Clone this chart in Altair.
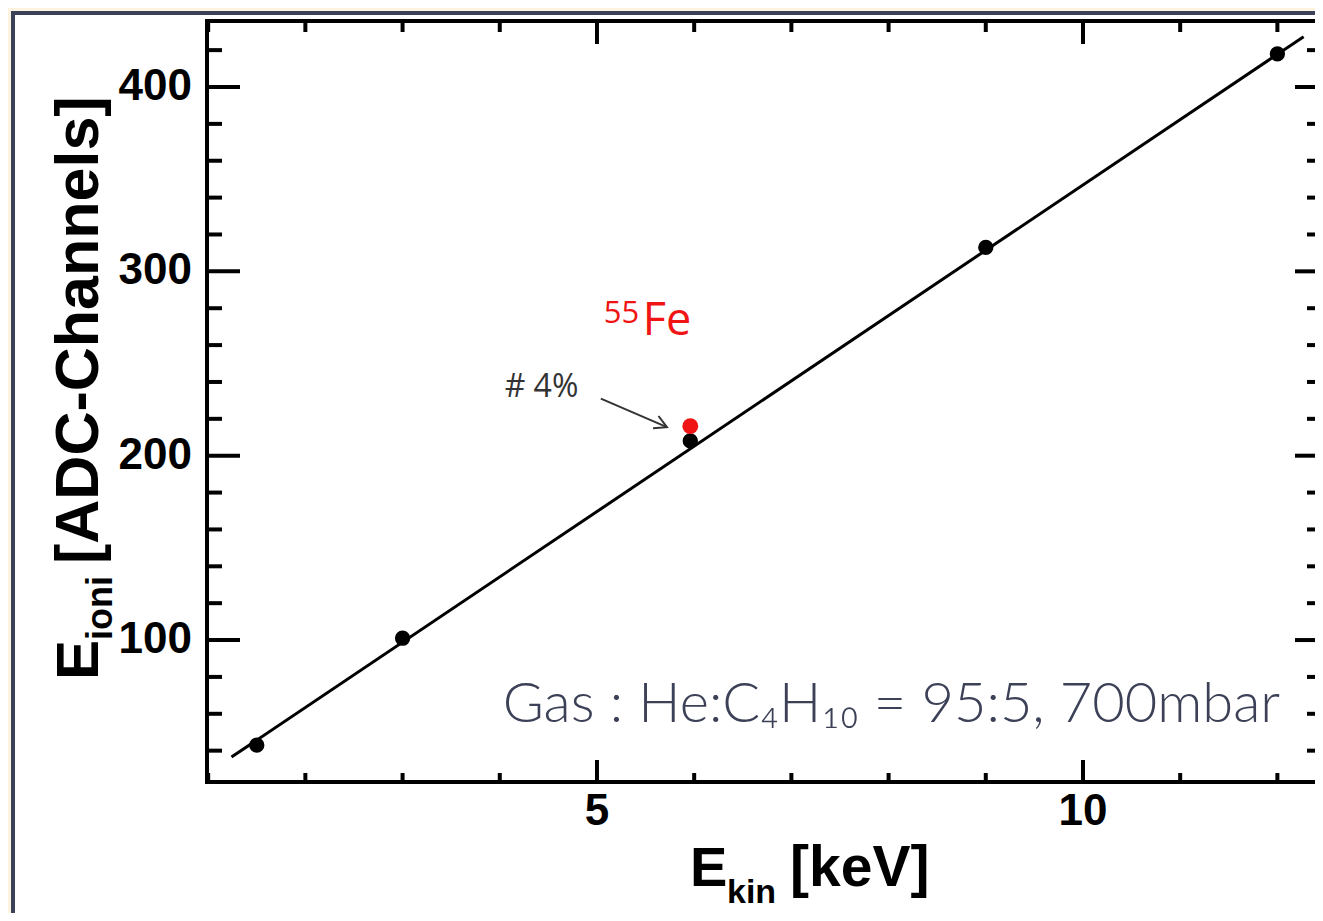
import altair as alt
import pandas as pd

# ---- data ----
energy_kev = [1.5, 3.0, 5.96, 9.0, 12.0]
adc_channels = [43, 101, 208, 313, 418]
fe55_kev = [5.96]
fe55_adc = [216]
fit_kev = [1.24, 12.27]
fit_adc = [36.5, 427.3]

x_major = [5, 10]
x_major_labels = ["5", "10"]
x_minor = [1, 2, 3, 4, 6, 7, 8, 9, 11, 12]
y_major = [100, 200, 300, 400]
y_major_labels = ["100", "200", "300", "400"]
y_minor = [40, 60, 80, 120, 140, 160, 180, 220, 240, 260, 280,
           320, 340, 360, 380, 420]

X_DOMAIN = [0.988, 12.387]
Y_DOMAIN = [23.0, 435.8]

# annotation anchors (data units)
ann_text = ["# 4%"]
ann_x = [4.05]
ann_y = [237.0]
sup_text = ["55"]
sup_x = [5.07]
sup_y = [272.0]
fe_text = ["Fe"]
fe_x = [5.47]
fe_y = [265.5]
arrow_x0 = [5.04]
arrow_y0 = [231.0]
arrow_x1 = [5.72]
arrow_y1 = [215.5]
gas_text = ["Gas : He:C\u2084H\u2081\u2080 = 95:5, 700mbar"]
gas_x = [4.03]
gas_y = [55.5]

W, H = 1108, 761
BLACK = "#000000"
SLATE = "#3c4157"
RED = "#f01414"

xs = alt.Scale(domain=X_DOMAIN, nice=False, zero=False)
ys = alt.Scale(domain=Y_DOMAIN, nice=False, zero=False)

label_font = "Liberation Sans"


def X(field):
    return alt.X(field, scale=xs, axis=None)


def Y(field):
    return alt.Y(field, scale=ys, axis=None)


pts = pd.DataFrame({"E": energy_kev, "A": adc_channels})
fe = pd.DataFrame({"E": fe55_kev, "A": fe55_adc})
fit = pd.DataFrame({"E": fit_kev, "A": fit_adc})
dummy = alt.Data(values=[{"a": 1}])

panel = alt.Chart(dummy).mark_rect(
    fill="white", stroke=SLATE, strokeWidth=4
).encode(x=alt.value(-194), x2=alt.value(1300), y=alt.value(-8), y2=alt.value(1100))

frame = [
    alt.Chart(dummy).mark_rule(color=BLACK, strokeWidth=4).encode(
        x=alt.value(-2), x2=alt.value(W + 40), y=alt.value(0)),
    alt.Chart(dummy).mark_rule(color=BLACK, strokeWidth=4).encode(
        x=alt.value(-2), x2=alt.value(W + 40), y=alt.value(H)),
    alt.Chart(dummy).mark_rule(color=BLACK, strokeWidth=4).encode(
        x=alt.value(0), y=alt.value(-2), y2=alt.value(H + 2)),
]


def yticks(vals, x0, x1):
    return alt.Chart(pd.DataFrame({"v": vals})).mark_rule(
        color=BLACK, strokeWidth=4).encode(
        y=Y("v:Q"), x=alt.value(x0), x2=alt.value(x1))


def xticks(vals, y0, y1):
    return alt.Chart(pd.DataFrame({"v": vals})).mark_rule(
        color=BLACK, strokeWidth=4).encode(
        x=X("v:Q"), y=alt.value(y0), y2=alt.value(y1))


ticks = [
    yticks(y_major, 0, 33), yticks(y_minor, 0, 15),
    yticks(y_major, W - 20, W), yticks(y_minor, W - 8, W),
    xticks(x_major, H - 22, H), xticks(x_minor, H - 9, H),
    xticks(x_major, 0, 23), xticks(x_minor, 0, 11),
]

# tick labels
y_labels = alt.Chart(pd.DataFrame({"v": y_major, "t": y_major_labels})).mark_text(
    font=label_font, fontWeight="bold", fontSize=44, color=BLACK,
    align="right", baseline="middle").encode(
    y=Y("v:Q"), x=alt.value(-15), text="t:N")
x_labels = alt.Chart(pd.DataFrame({"v": x_major, "t": x_major_labels})).mark_text(
    font=label_font, fontWeight="bold", fontSize=44, color=BLACK,
    align="center", baseline="top").encode(
    x=X("v:Q"), y=alt.value(H + 8), text="t:N")

fit_line = alt.Chart(fit).mark_line(color=BLACK, strokeWidth=3).encode(
    x=X("E:Q"), y=Y("A:Q"))

black_pts = alt.Chart(pts).mark_circle(size=235, color=BLACK, opacity=1).encode(
    x=X("E:Q"), y=Y("A:Q"))

red_pts = alt.Chart(fe).mark_circle(size=250, color=RED, opacity=1).encode(
    x=X("E:Q"), y=Y("A:Q"))


def text_layer(txt, xv, yv, baseline="alphabetic", **kw):
    df = pd.DataFrame({"t": txt, "x": xv, "y": yv})
    return alt.Chart(df).mark_text(align="left", baseline=baseline, **kw).encode(
        x=X("x:Q"), y=Y("y:Q"), text="t:N")


ann = text_layer(ann_text, ann_x, ann_y, font="Open Sans", fontSize=32, color="#333333",
                 baseline="middle")
sup = text_layer(sup_text, sup_x, sup_y, font="Open Sans", fontSize=31, color=RED)
fe_lbl = text_layer(fe_text, fe_x, fe_y, font="Open Sans", fontSize=45, color=RED)
gas = text_layer(gas_text, gas_x, gas_y, font="Lato", fontWeight=300, fontSize=56,
                 color=SLATE)

arrow_df = pd.DataFrame({"x0": arrow_x0, "y0": arrow_y0, "x1": arrow_x1, "y1": arrow_y1})
arrow = alt.Chart(arrow_df).mark_rule(color="#333333", strokeWidth=2).encode(
    x=X("x0:Q"), y=Y("y0:Q"), x2="x1:Q", y2="y1:Q")
arrow_head = alt.Chart(arrow_df).mark_point(
    shape="M -1 -0.55 L 0 0 L -1 0.55", filled=False, color="#333333",
    strokeWidth=2, size=600, angle=24, opacity=1).encode(
    x=X("x1:Q"), y=Y("y1:Q"))


# axis titles, built from pieces to get the subscripts
def px_text(txt, x, y, size, angle=0):
    return alt.Chart(dummy).mark_text(
        text=txt, font=label_font, fontWeight="bold", fontSize=size, color=BLACK,
        align="left", baseline="alphabetic", angle=angle).encode(
        x=alt.value(x), y=alt.value(y))


# x title
xt = [
    px_text("E", 483, 865, 56),
    px_text("kin", 483 + 37, 865 + 17, 34),
    px_text("[keV]", 483 + 37 + 49 + 14, 865, 57),
]
# y title (rotated, reading upward)
yt = [
    px_text("E", -109, 659, 60, angle=270),
    px_text("ioni", -109 + 14, 659 - 40, 36, angle=270),
    px_text("[ADC-Channels]", -109, 659 - 40 - 64 - 12, 61, angle=270),
]

chart = alt.layer(
    panel, fit_line, black_pts, red_pts, *ticks, *frame, y_labels, x_labels,
    ann, sup, fe_lbl, gas, arrow, arrow_head, *xt, *yt
).properties(
    width=W, height=H,
    autosize=alt.AutoSizeParams(type="none"),
    padding={"left": 199, "top": 13, "right": 0, "bottom": 131},
    background="#fdf3e1",
).configure_view(strokeWidth=0)

chart.save("out.html", embed_options={"renderer": "svg", "actions": False})
